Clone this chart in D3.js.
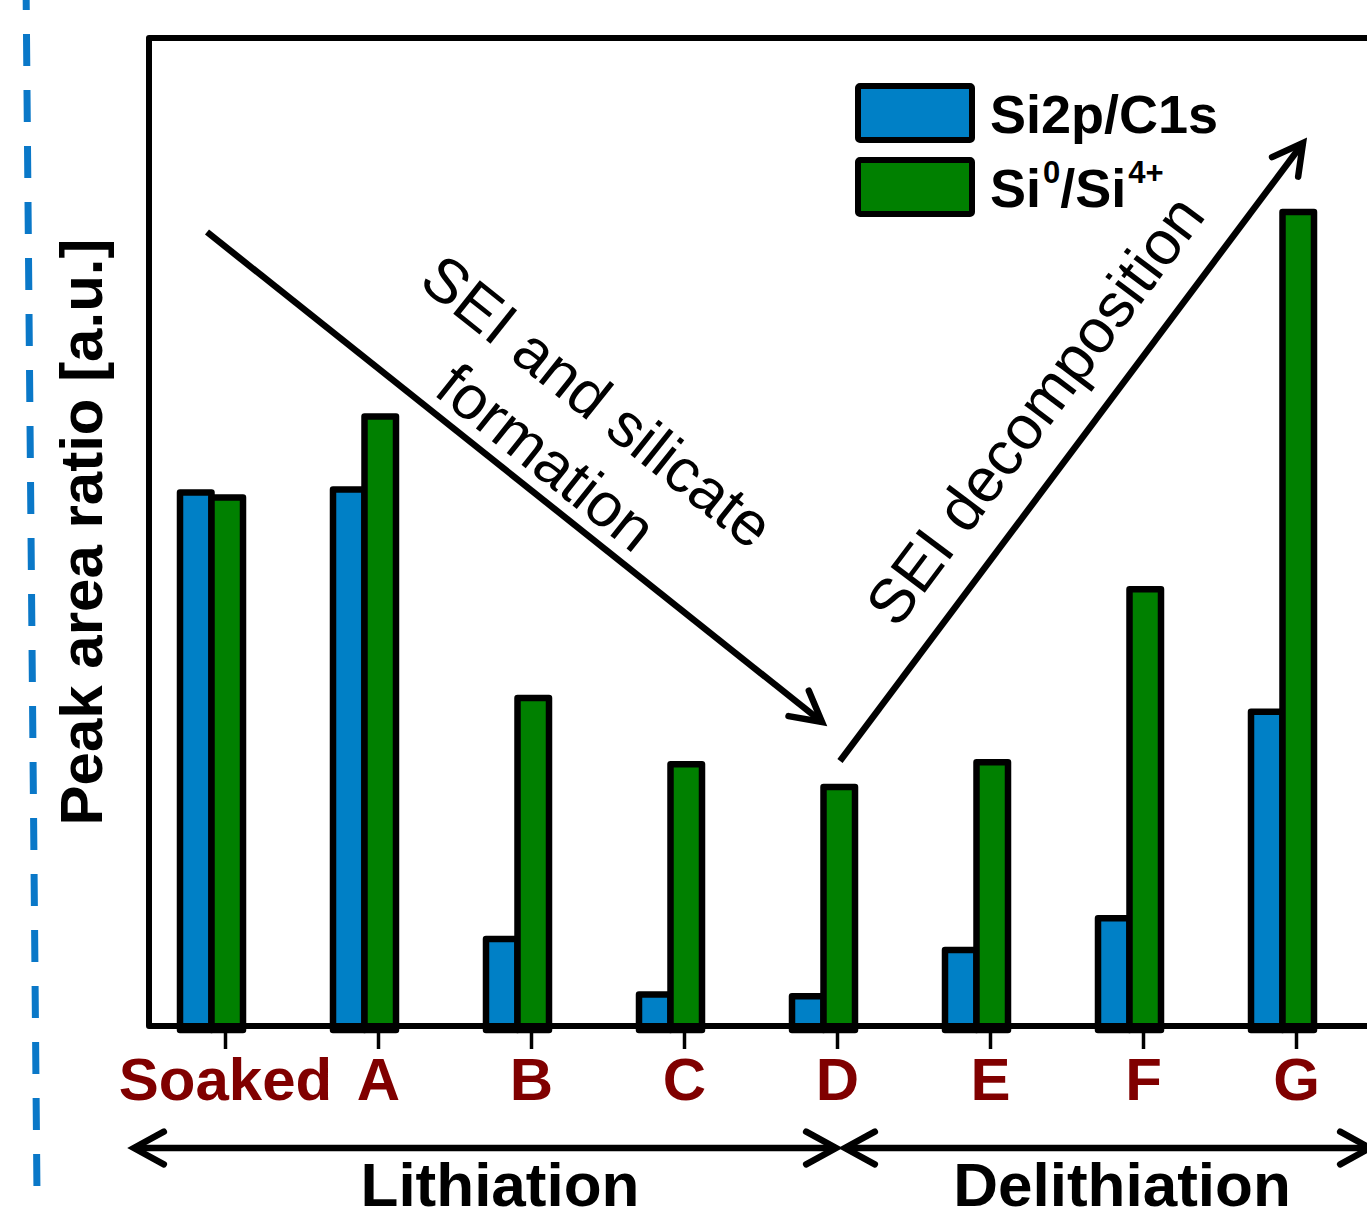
<!DOCTYPE html>
<html>
<head>
<meta charset="utf-8">
<script src="https://cdn.jsdelivr.net/npm/d3@7"></script>
<style>
  body { margin: 0; background: #fff; }
  svg { display: block; font-family: "Liberation Sans", Arial, sans-serif; }
</style>
</head>
<body>
<div id="chart"></div>
<script>
// categories along the x axis
const categories = ['Soaked', 'A', 'B', 'C', 'D', 'E', 'F', 'G'];
const series = ['Si2p/C1s', 'Si0/Si4+'];
// peak area ratios [a.u.]
const si2pC1s = [0.540, 0.543, 0.088, 0.032, 0.030, 0.077, 0.109, 0.318];
const si0Si4 = [0.535, 0.617, 0.332, 0.265, 0.242, 0.267, 0.442, 0.824];
const phases = ['Lithiation', 'Delithiation'];

const WIDTH = 1367;
const HEIGHT = 1207;
const FRAME_LEFT = 149;
const FRAME_TOP = 38;
const BASELINE = 1026;
const BLUE = '#0080c6';
const GREEN = '#008000';
const DARK_RED = '#800000';

const svg = d3.select('#chart').append('svg')
  .attr('width', WIDTH)
  .attr('height', HEIGHT);

const x = d3.scaleBand()
  .domain(categories)
  .range([FRAME_LEFT, FRAME_LEFT + 153 * categories.length]);

// two bars per group, green bar sits on the tick
const xSub = d3.scaleBand()
  .domain(series)
  .range([-45.5, 17.5]);

const y = d3.scaleLinear()
  .domain([0, 1])
  .range([BASELINE, FRAME_TOP]);

// dashed separator on the left edge
svg.append('line')
  .attr('x1', 26).attr('y1', -20)
  .attr('x2', 37).attr('y2', 1195)
  .attr('stroke', '#0a78c8')
  .attr('stroke-width', 7)
  .attr('stroke-dasharray', '32 24')
  .attr('stroke-dashoffset', 2);

// bars
const rows = categories.map((c, i) => ({ cat: c, values: [si2pC1s[i], si0Si4[i]] }));
const colors = d3.scaleOrdinal().domain(series).range([BLUE, GREEN]);

const groups = svg.append('g').selectAll('g')
  .data(rows)
  .join('g')
  .attr('transform', d => `translate(${x(d.cat) + x.bandwidth() / 2},0)`);

groups.selectAll('rect')
  .data(d => d.values.map((v, j) => ({ key: series[j], value: v })))
  .join('rect')
  .attr('x', d => xSub(d.key))
  .attr('width', xSub.bandwidth())
  .attr('y', d => y(d.value))
  .attr('height', d => BASELINE - y(d.value) + 4)
  .attr('fill', d => colors(d.key))
  .attr('stroke', '#000')
  .attr('stroke-width', 6.5)
  .attr('stroke-linejoin', 'round');

// frame (right side runs off the picture)
svg.append('path')
  .attr('d', `M${WIDTH + 20},${FRAME_TOP}H${FRAME_LEFT}V${BASELINE}H${WIDTH + 20}`)
  .attr('fill', 'none')
  .attr('stroke', '#000')
  .attr('stroke-width', 6)
  .attr('stroke-linejoin', 'round');

// x axis ticks and labels
const xAxis = d3.axisBottom(x)
  .tickSize(21)
  .tickSizeOuter(0);
const axisG = svg.append('g')
  .attr('transform', `translate(0,${BASELINE + 2})`)
  .call(xAxis);
axisG.select('.domain').remove();
axisG.selectAll('.tick line')
  .attr('stroke', '#000')
  .attr('stroke-width', 3.5);
axisG.selectAll('.tick text')
  .attr('y', 72)
  .attr('dy', 0)
  .attr('fill', DARK_RED)
  .attr('font-size', 60)
  .attr('font-weight', 'bold')
  .attr('font-family', '"Liberation Sans", Arial, sans-serif');

// y axis title
svg.append('text')
  .attr('transform', 'translate(102,532) rotate(-90)')
  .attr('text-anchor', 'middle')
  .attr('font-size', 60)
  .attr('font-weight', 'bold')
  .text('Peak area ratio [a.u.]');

// legend
const legend = svg.append('g').attr('transform', 'translate(858,86)');
series.forEach((s, i) => {
  const row = legend.append('g').attr('transform', `translate(0,${i * 74})`);
  row.append('rect')
    .attr('width', 114).attr('height', 54)
    .attr('rx', 2)
    .attr('fill', colors(s))
    .attr('stroke', '#000')
    .attr('stroke-width', 6);
  const t = row.append('text')
    .attr('x', 132).attr('y', 47)
    .attr('font-size', 54)
    .attr('font-weight', 'bold');
  if (i === 0) {
    t.text(s);
  } else {
    t.append('tspan').text('Si');
    t.append('tspan').attr('font-size', 31).attr('dy', -24).attr('dx', 2).text('0');
    t.append('tspan').attr('dy', 24).text('/Si');
    t.append('tspan').attr('font-size', 31).attr('dy', -24).attr('dx', 2).text('4+');
  }
});

// arrows
function chevron(g, tip, angle, len, spread) {
  const a1 = angle + Math.PI - spread;
  const a2 = angle + Math.PI + spread;
  g.append('path')
    .attr('d', `M${tip[0] + len * Math.cos(a1)},${tip[1] + len * Math.sin(a1)}` +
      `L${tip[0]},${tip[1]}` +
      `L${tip[0] + len * Math.cos(a2)},${tip[1] + len * Math.sin(a2)}`)
    .attr('fill', 'none')
    .attr('stroke', '#000')
    .attr('stroke-width', 6.5)
    .attr('stroke-linecap', 'round')
    .attr('stroke-linejoin', 'miter');
}

function arrow(from, to, heads) {
  const g = svg.append('g');
  g.append('line')
    .attr('x1', from[0]).attr('y1', from[1])
    .attr('x2', to[0]).attr('y2', to[1])
    .attr('stroke', '#000')
    .attr('stroke-width', 6.5);
  const ang = Math.atan2(to[1] - from[1], to[0] - from[0]);
  if (heads.end) chevron(g, to, ang, 34, 0.5);
  if (heads.start) chevron(g, from, ang + Math.PI, 34, 0.5);
}

arrow([207, 232], [822, 722], { end: true });
arrow([840, 761], [1303, 143], { end: true });
arrow([134, 1148], [836, 1148], { start: true, end: true });
arrow([845, 1148], [1370, 1148], { start: true, end: true });

// rotated annotations
const deg1 = Math.atan2(722 - 232, 822 - 207) * 180 / Math.PI;
const ann1 = svg.append('g')
  .attr('font-size', 62)
  .attr('text-anchor', 'middle');
ann1.append('text')
  .attr('transform', `translate(584,418) rotate(${deg1})`)
  .text('SEI and silicate');
ann1.append('text')
  .attr('transform', `translate(533,474) rotate(${deg1})`)
  .text('formation');

const deg2 = Math.atan2(143 - 761, 1303 - 840) * 180 / Math.PI;
svg.append('text')
  .attr('transform', `translate(1052,423) rotate(${deg2})`)
  .attr('font-size', 62)
  .attr('text-anchor', 'middle')
  .text('SEI decomposition');

// phase labels under the arrows
svg.append('g').selectAll('text')
  .data(phases)
  .join('text')
  .attr('x', (d, i) => [500, 1122][i])
  .attr('y', 1206)
  .attr('text-anchor', 'middle')
  .attr('font-size', 62)
  .attr('font-weight', 'bold')
  .text(d => d);
</script>
</body>
</html>
